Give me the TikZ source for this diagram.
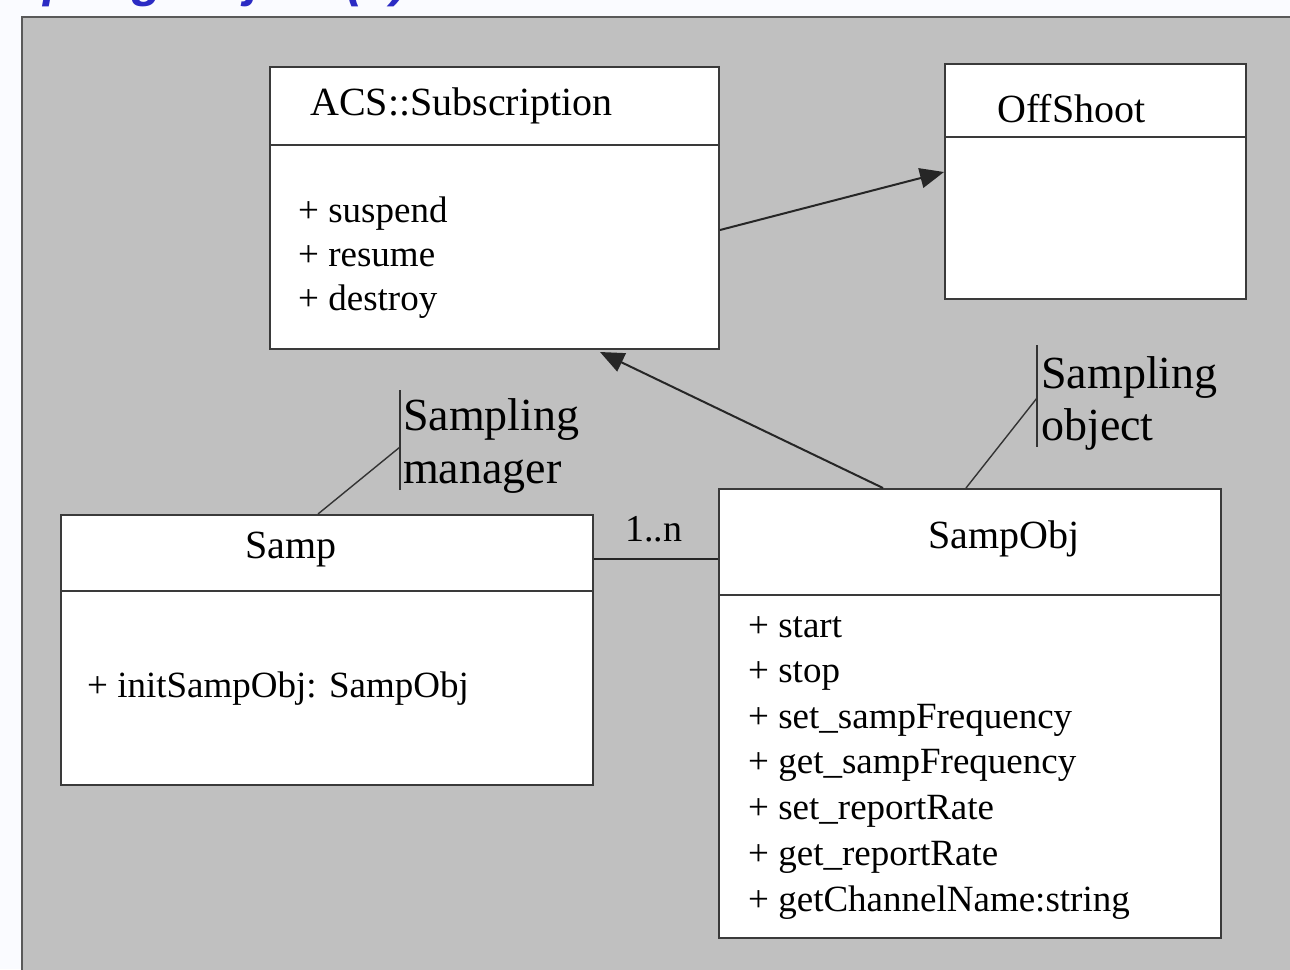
\documentclass[tikz,border=0pt]{standalone}
\usepackage{fontspec}
\setmainfont{Liberation Serif}
\newfontfamily\headfont{Liberation Sans}
\usetikzlibrary{arrows.meta}
\definecolor{panelgray}{HTML}{C0C0C0}
\definecolor{edgegray}{HTML}{3A3A3A}
\definecolor{titleblue}{HTML}{2B2BC4}
\definecolor{pagewhite}{HTML}{FAFBFF}
\tikzset{
  classbox/.style={draw=edgegray, line width=2pt, fill=white, inner sep=0pt, anchor=north west},
  divider/.style={draw=edgegray, line width=2pt},
  classname/.style={anchor=base west, inner sep=0pt, font=\fontsize{40}{46}\selectfont},
  member/.style={anchor=base west, inner sep=0pt, font=\fontsize{37}{45}\selectfont},
  notetext/.style={anchor=base west, inner sep=0pt, font=\fontsize{46}{52}\selectfont},
  link/.style={draw=black!85, line width=2pt},
  notelink/.style={draw=black!80, line width=1.4pt},
  gen/.style={link, -{Triangle[length=24pt,width=20pt]}},
}
\begin{document}
\begin{tikzpicture}[x=1pt, y=-1pt]
  \useasboundingbox (0,0) rectangle (1290,969);
  \clip (0,0) rectangle (1290,969);
  \fill[pagewhite] (0,0) rectangle (1290,969);
  % slide heading, running off the top edge
  \node[anchor=base west, inner sep=0pt, text=titleblue,
        font=\headfont\bfseries\itshape\fontsize{50}{56}\selectfont] (heading) at (-62,-4) {Sampling Object (1)};
  % grey drawing panel
  \draw[fill=panelgray, draw=black!65, line width=2.5pt] (22,17) rectangle (1300,980);

  % ACS::Subscription
  \node[classbox, minimum width=449pt, minimum height=282pt] (sub) at (269,66) {};
  \draw[divider] (269,145) -- (718,145);
  \node[classname] (subname) at (310,115) {ACS::Subscription};
  \node[member] (m1) at (298,222) {+ suspend};
  \node[member] (m2) at (298,266) {+ resume};
  \node[member] (m3) at (298,310) {+ destroy};

  % OffShoot
  \node[classbox, minimum width=301pt, minimum height=235pt] (off) at (944,63) {};
  \draw[divider] (944,137) -- (1245,137);
  \node[classname] (offname) at (997,122) {OffShoot};

  % Samp
  \node[classbox, minimum width=532pt, minimum height=270pt] (samp) at (60,514) {};
  \draw[divider] (60,591) -- (592,591);
  \node[classname] (sampname) at (245,558) {Samp};
  \node[member] (s1) at (87,697) {+ initSampObj: SampObj};

  % SampObj
  \node[classbox, minimum width=502pt, minimum height=449pt] (so) at (718,488) {};
  \draw[divider] (718,595) -- (1220,595);
  \node[classname] (soname) at (928,548) {SampObj};
  \node[member] (o1) at (748,637) {+ start};
  \node[member] (o2) at (748,682) {+ stop};
  \node[member] (o3) at (748,728) {+ set\_sampFrequency};
  \node[member] (o4) at (748,773) {+ get\_sampFrequency};
  \node[member] (o5) at (748,819) {+ set\_reportRate};
  \node[member] (o6) at (748,865) {+ get\_reportRate};
  \node[member] (o7) at (748,911) {+ getChannelName:string};

  % associations
  \draw[gen] ([yshift=-164pt]sub.north east) -- ([yshift=-109pt]off.north west);
  \draw[gen] ([xshift=165pt]so.north west) -- ([xshift=331pt,yshift=-2pt]sub.south west);
  \draw[link] ([yshift=-45pt]samp.north east) -- ([yshift=-71pt]so.north west);
  \node[anchor=base west, inner sep=0pt, font=\fontsize{38}{44}\selectfont] (mult) at (625,541) {1..n};

  % notes
  \coordinate (nm) at (400,447);
  \draw[notelink] (400,390) -- (400,490);
  \draw[notelink] ([xshift=258pt]samp.north west) -- (nm);
  \node[notetext] (nmtext1) at (403,430) {Sampling};
  \node[notetext] (nmtext2) at (403,483) {manager};

  \coordinate (no) at (1037,398);
  \draw[notelink] (1037,345) -- (1037,447);
  \draw[notelink] ([xshift=248pt]so.north west) -- (no);
  \node[notetext] (notext1) at (1041,388) {Sampling};
  \node[notetext] (notext2) at (1041,440) {object};
\end{tikzpicture}
\end{document}
